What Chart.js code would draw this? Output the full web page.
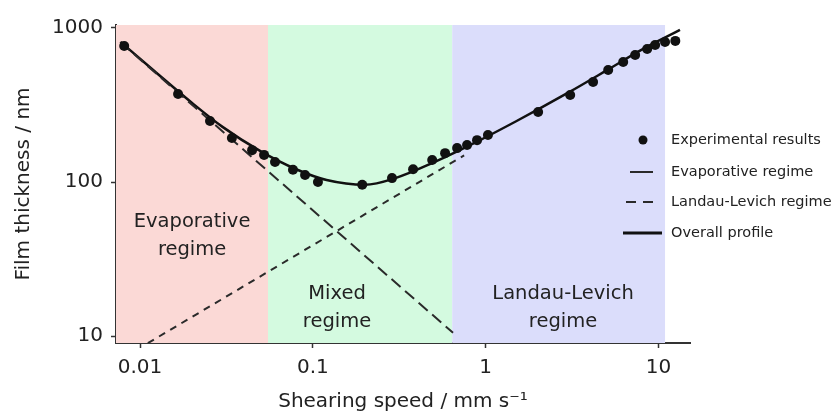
<!DOCTYPE html>
<html>
<head>
<meta charset="utf-8">
<script src="https://cdn.jsdelivr.net/npm/chart.js@4.4.1/dist/chart.umd.min.js"></script>
<style>
    body { margin: 0; background: #fff; }
    #box { width: 835px; height: 417px; }
</style>
</head>
<body>
<div id="box"><canvas id="chartFilm"></canvas></div>
<script>
// experimental results : shearing speed (mm/s) and film thickness (nm)
const expSpeed = [0.0081, 0.0166, 0.0254, 0.034, 0.0445, 0.0522, 0.0604, 0.0767, 0.0901, 0.107,
    0.193, 0.287, 0.38, 0.49, 0.582, 0.683, 0.78, 0.891, 1.03, 2.01,
    3.08, 4.18, 5.11, 6.24, 7.32, 8.59, 9.55, 10.9, 12.5];
const expThick = [764, 373, 249, 193, 161, 150, 135, 120, 111, 100,
    96, 106, 121, 139, 154, 166, 174, 187, 202, 285,
    367, 446, 533, 601, 668, 731, 776, 811, 824];

// overall profile
const profSpeed = [0.0077, 0.012, 0.02, 0.03, 0.05, 0.08, 0.12, 0.2, 0.3, 0.5, 0.8, 1.5, 3, 5, 8, 13.3];
const profThick = [812, 530, 326, 228, 158, 121, 103, 96, 106, 134, 172, 248, 380, 530, 723, 970];

// evaporative regime (long dashes) and Landau-Levich regime (short dashes)
const evapSpeed = [0.0077, 0.647];
const evapThick = [808, 10.5];
const llSpeed = [0.0111, 0.75];
const llThick = [9.0, 149];

// regimes
const regionNames = [['Evaporative', 'regime'], ['Mixed', 'regime'], ['Landau-Levich', 'regime']];
const regionEdges = [0.00726, 0.055, 0.64, 10.9];
const regionColors = ['rgb(251, 217, 214)', 'rgb(212, 250, 224)', 'rgb(219, 221, 251)'];
const labelSpeed = [0.02, 0.138, 2.8];
const labelThick = [55, 18.7, 18.7];

// axes
const xTicks = [0.01, 0.1, 1, 10];
const xTickLabels = ['0.01', '0.1', '1', '10'];
const yTicks = [10, 100, 1000];
const yTickLabels = ['10', '100', '1000'];

const FONT = '"DejaVu Sans", sans-serif';
const ink = '#222';

function pairs(xs, ys) {
    return xs.map((x, i) => ({ x: x, y: ys[i] }));
}

const regimes = {
    id: 'regimes',
    beforeDatasetsDraw(chart) {
        const ctx = chart.ctx;
        const a = chart.chartArea;
        const xs = chart.scales.x;
        const ys = chart.scales.y;
        ctx.save();
        for (let i = 0; i < regionColors.length; i++) {
            const x0 = Math.max(a.left, xs.getPixelForValue(regionEdges[i]));
            const x1 = xs.getPixelForValue(regionEdges[i + 1]);
            ctx.fillStyle = regionColors[i];
            ctx.fillRect(x0, a.top, x1 - x0, a.bottom - a.top);
        }
        ctx.fillStyle = ink;
        ctx.font = '19.5px ' + FONT;
        ctx.textAlign = 'center';
        ctx.textBaseline = 'middle';
        for (let i = 0; i < regionNames.length; i++) {
            const px = xs.getPixelForValue(labelSpeed[i]);
            const py = ys.getPixelForValue(labelThick[i]);
            regionNames[i].forEach((line, k) => ctx.fillText(line, px, py + k * 28));
        }
        ctx.restore();
    }
};

const sideLegend = {
    id: 'sideLegend',
    afterDraw(chart) {
        const ctx = chart.ctx;
        const ds = chart.data.datasets;
        ctx.save();
        ctx.font = '14.5px ' + FONT;
        ctx.textBaseline = 'middle';
        ctx.textAlign = 'left';

        // experimental results
        ctx.fillStyle = '#111';
        ctx.beginPath();
        ctx.arc(643, 140, 4.5, 0, Math.PI * 2);
        ctx.fill();

        ctx.strokeStyle = '#2a2a2a';
        ctx.lineWidth = 2;
        ctx.beginPath();
        ctx.moveTo(630, 172);
        ctx.lineTo(653, 172);
        ctx.stroke();

        ctx.setLineDash([10, 7]);
        ctx.beginPath();
        ctx.moveTo(626, 202);
        ctx.lineTo(656, 202);
        ctx.stroke();
        ctx.setLineDash([]);

        ctx.strokeStyle = '#111';
        ctx.lineWidth = 3;
        ctx.beginPath();
        ctx.moveTo(623, 233);
        ctx.lineTo(662, 233);
        ctx.stroke();

        ctx.fillStyle = ink;
        const rows = [140, 172, 202, 233];
        rows.forEach((y, i) => ctx.fillText(ds[i].label, 671, y));
        ctx.restore();
    }
};

let chartFilm = new Chart(document.getElementById('chartFilm'), {
    type: 'scatter',
    data: {
        datasets: [
            {
                label: 'Experimental results',
                data: pairs(expSpeed, expThick),
                pointRadius: 5,
                pointBackgroundColor: '#111',
                pointBorderWidth: 0,
                showLine: false
            },
            {
                label: 'Evaporative regime',
                data: pairs(evapSpeed, evapThick),
                showLine: true,
                borderColor: '#2a2a2a',
                borderWidth: 2,
                borderDash: [12, 6],
                pointRadius: 0
            },
            {
                label: 'Landau-Levich regime',
                data: pairs(llSpeed, llThick),
                showLine: true,
                borderColor: '#2a2a2a',
                borderWidth: 2,
                borderDash: [7, 6],
                pointRadius: 0
            },
            {
                label: 'Overall profile',
                data: pairs(profSpeed, profThick),
                showLine: true,
                borderColor: '#111',
                borderWidth: 2.5,
                cubicInterpolationMode: 'monotone',
                pointRadius: 0
            }
        ]
    },
    options: {
        responsive: true,
        maintainAspectRatio: false,
        animation: false,
        layout: { padding: { top: 25, right: 145, left: 0, bottom: 0 } },
        plugins: {
            legend: { display: false },
            tooltip: { enabled: false }
        },
        scales: {
            x: {
                type: 'logarithmic',
                bounds: 'data',
                min: 0.00726,
                max: 15.2,
                afterBuildTicks: s => { s.ticks = xTicks.map(v => ({ value: v })); },
                afterFit: s => { s.height = 74; },
                ticks: {
                    autoSkip: false,
                    maxRotation: 0,
                    padding: 8,
                    color: ink,
                    font: { family: FONT, size: 20 },
                    callback: (v, i) => xTickLabels[i]
                },
                grid: { drawOnChartArea: false, drawTicks: true, tickLength: 5, color: '#333', tickWidth: 1.5 },
                border: { display: true, color: '#333', width: 2 },
                title: {
                    display: true,
                    text: 'Shearing speed / mm s⁻¹',
                    color: ink,
                    font: { family: FONT, size: 20 },
                    padding: { top: 0, bottom: 3 }
                }
            },
            y: {
                type: 'logarithmic',
                bounds: 'data',
                min: 9.02,
                max: 1045,
                afterBuildTicks: s => { s.ticks = yTicks.map(v => ({ value: v })); },
                afterFit: s => { s.width = 116; },
                ticks: {
                    autoSkip: false,
                    padding: 8,
                    color: ink,
                    font: { family: FONT, size: 20 },
                    callback: (v, i) => yTickLabels[i]
                },
                grid: { drawOnChartArea: false, drawTicks: true, tickLength: 5, color: '#333', tickWidth: 1.5 },
                border: { display: true, color: '#333', width: 2 },
                title: {
                    display: true,
                    text: 'Film thickness / nm',
                    color: ink,
                    font: { family: FONT, size: 20 },
                    padding: { top: 12, bottom: 0 }
                }
            }
        }
    },
    plugins: [regimes, sideLegend]
});
</script>
</body>
</html>
